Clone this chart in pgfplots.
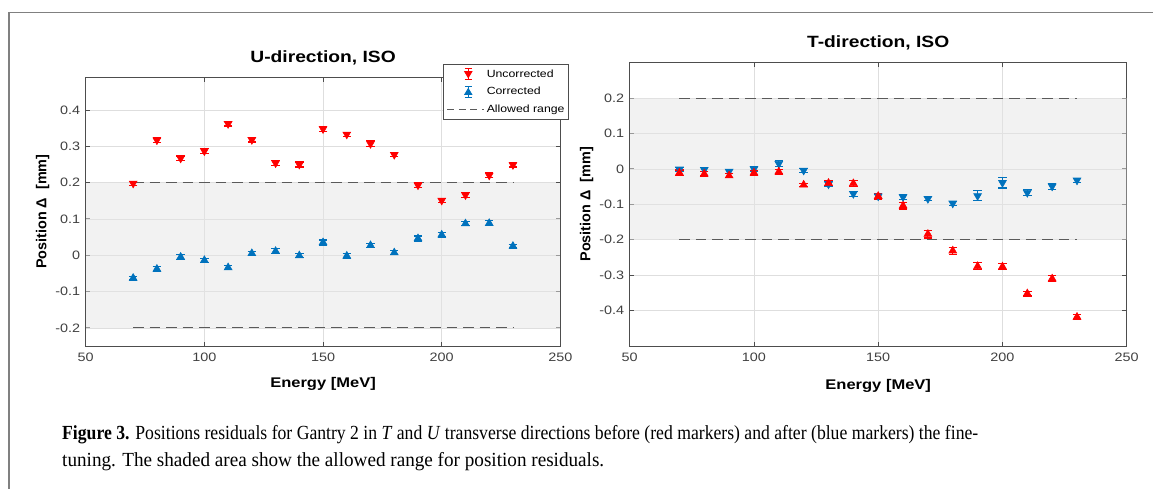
\documentclass[border=0pt]{standalone}
\usepackage{pgfplots}
\pgfplotsset{compat=1.18}
\usepackage{pgfplotstable}
\usepackage{graphicx}
\usepackage{fontspec}
\setmainfont{Liberation Serif}
\newfontfamily\plotfont{Liberation Sans}[FakeStretch=1.18]
\newfontfamily\plotfontv{Liberation Sans}

\definecolor{mred}{RGB}{255,0,0}
\definecolor{mblue}{RGB}{0,114,189}
\definecolor{axgray}{RGB}{77,77,77}
\definecolor{gridgray}{RGB}{222,222,222}
\definecolor{tickgray}{RGB}{64,64,64}
\definecolor{dashgray}{RGB}{90,90,90}

% U-direction, uncorrected / corrected (energy, residual, error)
\pgfplotstableread{
E v e
70 0.198 0.005
80 0.317 0.006
90 0.267 0.006
100 0.287 0.006
110 0.362 0.006
120 0.318 0.006
130 0.254 0.006
140 0.250 0.007
150 0.348 0.007
160 0.333 0.006
170 0.307 0.008
180 0.277 0.006
190 0.193 0.007
200 0.151 0.006
210 0.166 0.006
220 0.220 0.007
230 0.249 0.006
}\Uunc
\pgfplotstableread{
E v e
70 -0.063 0.005
80 -0.038 0.006
90 -0.005 0.006
100 -0.014 0.006
110 -0.034 0.006
120 0.005 0.006
130 0.011 0.007
140 -0.001 0.006
150 0.035 0.007
160 -0.002 0.006
170 0.027 0.006
180 0.007 0.006
190 0.046 0.007
200 0.056 0.006
210 0.087 0.006
220 0.088 0.007
230 0.025 0.005
}\Ucor
% T-direction, uncorrected / corrected
\pgfplotstableread{
E v e
70 -0.011 0.008
80 -0.014 0.006
90 -0.019 0.006
100 -0.011 0.007
110 -0.008 0.006
120 -0.045 0.005
130 -0.040 0.007
140 -0.041 0.009
150 -0.077 0.008
160 -0.104 0.009
170 -0.184 0.011
180 -0.231 0.010
190 -0.275 0.010
200 -0.276 0.009
210 -0.352 0.007
220 -0.310 0.008
230 -0.418 0.008
}\Tunc
\pgfplotstableread{
E v e
70 -0.001 0.006
80 -0.002 0.006
90 -0.007 0.006
100 0.000 0.006
110 0.015 0.009
120 -0.004 0.005
130 -0.043 0.007
140 -0.070 0.007
150 -0.077 0.006
160 -0.079 0.007
170 -0.084 0.006
180 -0.097 0.006
190 -0.076 0.014
200 -0.039 0.015
210 -0.067 0.008
220 -0.049 0.008
230 -0.032 0.006
}\Tcor

\pgfplotsset{
  matlab/.style={
    scale only axis,
    xmin=50, xmax=250, xtick={50,100,150,200,250},
    grid=major, major grid style={gridgray, line width=0.6pt},
    axis line style={axgray, line width=0.9pt},
    every tick/.style={axgray, line width=0.9pt},
    tick align=inside, tick pos=both, major tick length=4.5pt,
    /pgf/number format/assume math mode=true,
    tick label style={font=\plotfont\fontsize{12.2}{13}\selectfont, text=tickgray},
    xticklabel style={yshift=-3.5pt},
    yticklabel style={xshift=-2pt},
    title style={font=\plotfont\bfseries\fontsize{16.3}{19}\selectfont, anchor=base, yshift=9pt},
    xlabel={Energy [MeV]},
    ylabel={Position Δ\ \ [mm]},
    xlabel style={font=\plotfont\bfseries\fontsize{14}{16}\selectfont, at={(axis description cs:0.5,-0.14)}, anchor=center},
    ylabel style={font=\plotfontv\bfseries\fontsize{14.4}{16}\selectfont, anchor=center},
  },
  band/.style={draw=none, fill=black!10, fill opacity=0.5, forget plot},
  limit/.style={dashgray, line width=1.1pt, dash pattern=on 10.5pt off 6pt, forget plot},
  errdown/.style={only marks, forget plot, #1, mark=triangle*, mark size=4.5pt,
    mark options={rotate=180, fill=#1, draw=#1, line width=0.6pt},
    error bars/.cd, y dir=both, y explicit,
    error bar style={#1, line width=1.1pt},
    error mark options={#1, rotate=90, mark size=4.2pt, line width=1.2pt}},
  errup/.style={only marks, forget plot, #1, mark=triangle*, mark size=4.5pt,
    mark options={fill=#1, draw=#1, line width=0.6pt},
    error bars/.cd, y dir=both, y explicit,
    error bar style={#1, line width=1.1pt},
    error mark options={#1, rotate=90, mark size=4.2pt, line width=1.2pt}},
}

\newsavebox\capA
\newsavebox\capB

\begin{document}%
\sbox\capA{\fontsize{20}{24}\selectfont\textbf{Figure 3.} Positions residuals for Gantry 2 in \textit{T} and \textit{U} transverse directions before (red markers) and after (blue markers) the fine-}%
\sbox\capB{\fontsize{20}{24}\selectfont tuning. The shaded area show the allowed range for position residuals.}%
\begin{tikzpicture}[x=1pt,y=1pt]
\path[use as bounding box] (0,0) rectangle (1153,488);
\draw[black!50, line width=1.4pt] (9,-20) -- (9,475.7) -- (1180,475.7);

% ---- U-direction ----
\begin{axis}[matlab, at={(85.7pt,142pt)}, anchor=south west,
  width=474.7pt, height=268.7pt,
  ymin=-0.25, ymax=0.49, ytick={-0.2,-0.1,0,0.1,0.2,0.3,0.4},
  title={U-direction, ISO},
  ylabel style={at={(axis description cs:-0.0906,0.5)}},
  legend style={at={(1.018,1.0495)}, anchor=north east, draw=axgray, line width=0.8pt,
    fill=white, font=\plotfont\fontsize{10.4}{12}\selectfont,
    inner xsep=2pt, inner ysep=3.5pt, row sep=4.3pt, cells={anchor=west}},
  legend cell align=left]
\addlegendimage{legend image code/.code={
  \draw[mred, line width=1.1pt] (22pt,-5.5pt)--(22pt,5.5pt) (18.5pt,5.5pt)--(25.5pt,5.5pt) (18.5pt,-5.5pt)--(25.5pt,-5.5pt);
  \fill[mred] (22pt,-3.2pt)--(18.4pt,2.8pt)--(25.6pt,2.8pt)--cycle;
  \path (0pt,0pt) (38pt,0pt);}}
\addlegendentry{Uncorrected}
\addlegendimage{legend image code/.code={
  \draw[mblue, line width=1.1pt] (22pt,-5.5pt)--(22pt,5.5pt) (18.5pt,5.5pt)--(25.5pt,5.5pt) (18.5pt,-5.5pt)--(25.5pt,-5.5pt);
  \fill[mblue] (22pt,3.2pt)--(18.4pt,-2.8pt)--(25.6pt,-2.8pt)--cycle;
  \path (0pt,0pt) (38pt,0pt);}}
\addlegendentry{Corrected}
\addlegendimage{legend image code/.code={
  \draw[dashgray, line width=1pt, dash pattern=on 7pt off 4.5pt] (1pt,0pt)--(38pt,0pt);}}
\addlegendentry{Allowed range}
\addplot[band] coordinates {(50,-0.2) (250,-0.2) (250,0.2) (50,0.2)} -- cycle;
\addplot[limit] coordinates {(70,0.2) (230,0.2)};
\addplot[limit] coordinates {(70,-0.2) (230,-0.2)};
\addplot[errdown=mred] table[x=E, y=v, y error=e] {\Uunc};
\addplot[errup=mblue] table[x=E, y=v, y error=e] {\Ucor};
\end{axis}

% ---- T-direction ----
\begin{axis}[matlab, at={(629.7pt,142pt)}, anchor=south west,
  width=497pt, height=283.3pt,
  ymin=-0.5, ymax=0.3, ytick={-0.4,-0.3,-0.2,-0.1,0,0.1,0.2},
  title={T-direction, ISO},
  ylabel style={at={(axis description cs:-0.0865,0.5)}}]
\addplot[band] coordinates {(50,-0.2) (250,-0.2) (250,0.2) (50,0.2)} -- cycle;
\addplot[limit] coordinates {(70,0.2) (230,0.2)};
\addplot[limit] coordinates {(70,-0.2) (230,-0.2)};
\addplot[errdown=mblue] table[x=E, y=v, y error=e] {\Tcor};
\addplot[errup=mred] table[x=E, y=v, y error=e] {\Tunc};
\end{axis}

% ---- caption ----
\node[anchor=base west, inner sep=0pt] at (62,49) {\resizebox{916pt}{\height}{\usebox\capA}};
\node[anchor=base west, inner sep=0pt] at (62,22) {\resizebox{542pt}{\height}{\usebox\capB}};
\end{tikzpicture}%
\end{document}
